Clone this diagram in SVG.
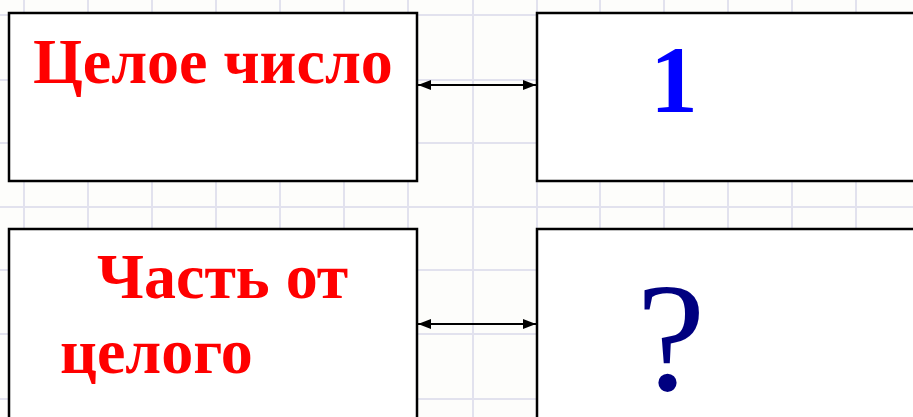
<svg xmlns="http://www.w3.org/2000/svg" width="913" height="417" viewBox="0 0 913 417">
  <defs>
    <style>
      .grid line { stroke: #e2e2ee; stroke-width: 2; }
      .box { fill: #ffffff; stroke: #000000; stroke-width: 2.5; }
      .lbl { font-family: "Liberation Serif", "Times New Roman", serif; font-weight: bold; fill: #ff0000; font-size: 64px; }
      .conn { stroke: #000000; stroke-width: 2; fill: none; marker-start: url(#arrS); marker-end: url(#arrE); }
    </style>
    <marker id="arrE" viewBox="0 0 13 10" refX="13" refY="5" markerWidth="13" markerHeight="10" markerUnits="userSpaceOnUse" orient="auto">
      <path d="M0,0 L13,5 L0,10 z" fill="#000"/>
    </marker>
    <marker id="arrS" viewBox="0 0 13 10" refX="0" refY="5" markerWidth="13" markerHeight="10" markerUnits="userSpaceOnUse" orient="auto">
      <path d="M13,0 L0,5 L13,10 z" fill="#000"/>
    </marker>
  </defs>
  <rect x="0" y="0" width="913" height="417" fill="#fdfdfb"/>
  <g class="grid">
    <line x1="24" y1="0" x2="24" y2="417"/>
    <line x1="88" y1="0" x2="88" y2="417"/>
    <line x1="152" y1="0" x2="152" y2="417"/>
    <line x1="216" y1="0" x2="216" y2="417"/>
    <line x1="280" y1="0" x2="280" y2="417"/>
    <line x1="344" y1="0" x2="344" y2="417"/>
    <line x1="408" y1="0" x2="408" y2="417"/>
    <line x1="473" y1="0" x2="473" y2="417"/>
    <line x1="537" y1="0" x2="537" y2="417"/>
    <line x1="600" y1="0" x2="600" y2="417"/>
    <line x1="664" y1="0" x2="664" y2="417"/>
    <line x1="728" y1="0" x2="728" y2="417"/>
    <line x1="792" y1="0" x2="792" y2="417"/>
    <line x1="856" y1="0" x2="856" y2="417"/>
    <line x1="0" y1="15" x2="913" y2="15"/>
    <line x1="0" y1="80" x2="913" y2="80"/>
    <line x1="0" y1="143" x2="913" y2="143"/>
    <line x1="0" y1="207" x2="913" y2="207"/>
    <line x1="0" y1="270" x2="913" y2="270"/>
    <line x1="0" y1="334" x2="913" y2="334"/>
    <line x1="0" y1="399" x2="913" y2="399"/>
  </g>
  <g id="node-whole">
    <rect class="box" x="9" y="13" width="408" height="168"/>
    <text class="lbl" x="33" y="83">Целое число</text>
  </g>
  <g id="node-one">
    <rect class="box" x="537" y="13" width="390" height="168"/>
    <text x="674" y="112" text-anchor="middle" font-family="Liberation Serif, Times New Roman, serif" font-weight="bold" font-size="95" fill="#0000ff">1</text>
  </g>
  <g id="node-part">
    <rect class="box" x="9" y="229" width="408" height="200"/>
    <text class="lbl" x="97" y="298">Часть от</text>
    <text class="lbl" x="60" y="373">целого</text>
  </g>
  <g id="node-question">
    <rect class="box" x="537" y="229" width="390" height="200"/>
    <text x="671" y="390" text-anchor="middle" font-family="Liberation Serif, Times New Roman, serif" font-size="155" fill="#000080">?</text>
  </g>
  <g id="connectors">
    <line class="conn" x1="418" y1="85" x2="536" y2="85"/>
    <line class="conn" x1="418" y1="324" x2="536" y2="324"/>
  </g>
</svg>
